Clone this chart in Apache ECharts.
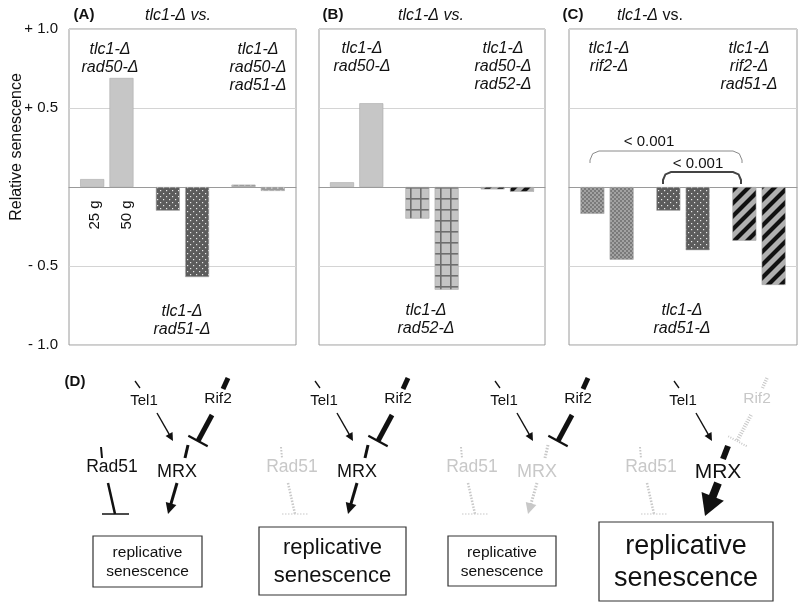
<!DOCTYPE html>
<html>
<head>
<meta charset="utf-8">
<script src="https://cdn.jsdelivr.net/npm/echarts@6/dist/echarts.min.js"></script>
<style>
    html, body { margin: 0; padding: 0; background: #fff; }
    #chart { width: 800px; height: 607px; }
</style>
</head>
<body>
<div id="chart"></div>
<script>
// bar values (3 groups x 2 bars per panel)
const groups = ['g1', 'g2', 'g3']
const panelA = [0.05, 0.69, -0.15, -0.57, 0.015, -0.025]
const panelB = [0.03, 0.53, -0.20, -0.65, -0.015, -0.03]
const panelC = [-0.17, -0.46, -0.15, -0.40, -0.34, -0.62]
const yTicks = [-1, -0.5, 0, 0.5, 1]
const yTickLabels = ['- 1.0', '- 0.5', '', '+ 0.5', '+ 1.0']

const FONT = 'Arial, "Liberation Sans", sans-serif'

// fill patterns
function pattern(w, h, draw) {
    const c = document.createElement('canvas')
    c.width = w
    c.height = h
    draw(c.getContext('2d'), w, h)
    return { image: c, repeat: 'repeat' }
}
const solid = '#c6c6c6'
const darkDots = pattern(6, 6, (g) => {
    g.fillStyle = '#5c5c5c'; g.fillRect(0, 0, 6, 6)
    g.fillStyle = '#e8e8e8'
    g.fillRect(1, 1, 1.2, 1.2); g.fillRect(4, 4, 1.2, 1.2)
})
const greyDots = pattern(6, 6, (g) => {
    g.fillStyle = '#9a9a9a'; g.fillRect(0, 0, 6, 6)
    g.fillStyle = '#eee'
    g.fillRect(1, 1, 1.5, 1.5); g.fillRect(4, 4, 1.5, 1.5)
})
const gridPat = pattern(10, 11, (g) => {
    g.fillStyle = '#c4c4c4'; g.fillRect(0, 0, 10, 11)
    g.fillStyle = '#6e6e6e'
    g.fillRect(0, 0, 10, 1.6); g.fillRect(0, 0, 1.6, 11)
})
const stripes = pattern(13, 13, (g) => {
    g.fillStyle = '#b0b0b0'; g.fillRect(0, 0, 13, 13)
    g.strokeStyle = '#111'; g.lineWidth = 4.2
    g.beginPath()
    g.moveTo(-6.5, 6.5); g.lineTo(6.5, -6.5)
    g.moveTo(0, 13); g.lineTo(13, 0)
    g.moveTo(6.5, 19.5); g.lineTo(19.5, 6.5)
    g.stroke()
})
const checker = pattern(4, 4, (g) => {
    g.fillStyle = '#a2a2a2'; g.fillRect(0, 0, 4, 4)
    g.fillStyle = '#7a7a7a'
    g.fillRect(0, 0, 2, 2); g.fillRect(2, 2, 2, 2)
})

const fillsA = [solid, solid, darkDots, darkDots, greyDots, greyDots]
const fillsB = [solid, solid, gridPat, gridPat, stripes, stripes]
const fillsC = [checker, checker, darkDots, darkDots, stripes, stripes]

const panels = [
    { vals: panelA, fills: fillsA, left: 69, width: 227 },
    { vals: panelB, fills: fillsB, left: 319, width: 226 },
    { vals: panelC, fills: fillsC, left: 569, width: 228 }
]

const grid = [], xAxis = [], yAxis = [], series = []
panels.forEach((p, i) => {
    grid.push({
        left: p.left, top: 29, width: p.width, height: 316,
        show: true, borderColor: '#9a9a9a', borderWidth: 1
    })
    xAxis.push({
        type: 'category', data: groups, gridIndex: i,
        axisLine: { show: true, onZero: true, lineStyle: { color: '#9a9a9a', width: 1 } },
        axisTick: { show: false }, axisLabel: { show: false }
    })
    yAxis.push({
        type: 'value', gridIndex: i, min: -1, max: 1, interval: 0.5,
        axisLine: { show: false }, axisTick: { show: false },
        splitLine: { lineStyle: { color: '#d4d4d4', width: 1 } },
        axisLabel: {
            show: i === 0, margin: 11, color: '#111', fontSize: 15, fontFamily: FONT,
            formatter: (v) => yTickLabels[yTicks.indexOf(v)] || ''
        }
    })
    ;[0, 1].forEach((k) => {
        series.push({
            type: 'bar', xAxisIndex: i, yAxisIndex: i,
            barWidth: 24, barGap: '22%',
            data: [0, 1, 2].map((gi) => ({
                value: p.vals[gi * 2 + k],
                itemStyle: { color: p.fills[gi * 2 + k], borderColor: '#aaa', borderWidth: 0.6 }
            }))
        })
    })
})

// ---- text helpers ----
function txt(x, y, s, o) {
    return {
        type: 'text', x: x, y: y, z: 10,
        style: Object.assign({
            text: s, fill: '#111', fontSize: 16, fontFamily: FONT,
            textAlign: 'center', textVerticalAlign: 'middle',
            align: 'center', verticalAlign: 'middle'
        }, o || {})
    }
}
const it = { fontStyle: 'italic' }
function label(x, y, lines) {
    return lines.map((s, n) => txt(x, y + n * 18, s, it))
}

const g = []
// y axis title
g.push(Object.assign(txt(17, 147, 'Relative senescence', { fontSize: 16 }), { rotation: Math.PI / 2 }))
// panel letters / headers
g.push(txt(84, 15, '(A)', { fontWeight: 'bold', fontSize: 15 }))
g.push(txt(178, 16, 'tlc1-Δ vs.', it))
g.push(txt(333, 15, '(B)', { fontWeight: 'bold', fontSize: 15 }))
g.push(txt(431, 16, 'tlc1-Δ vs.', it))
g.push(txt(573, 15, '(C)', { fontWeight: 'bold', fontSize: 15 }))
g.push(txt(650, 16, '{i|tlc1-Δ} vs.', { rich: { i: { fontStyle: 'italic', fontSize: 16, fontFamily: FONT } } }))
// panel A
g.push(...label(110, 50, ['tlc1-Δ', 'rad50-Δ']))
g.push(...label(258, 50, ['tlc1-Δ', 'rad50-Δ', 'rad51-Δ']))
g.push(...label(182, 312, ['tlc1-Δ', 'rad51-Δ']))
g.push(Object.assign(txt(95, 215, '25 g', { fontSize: 15 }), { rotation: Math.PI / 2 }))
g.push(Object.assign(txt(127, 215, '50 g', { fontSize: 15 }), { rotation: Math.PI / 2 }))
// panel B
g.push(...label(362, 49, ['tlc1-Δ', 'rad50-Δ']))
g.push(...label(503, 49, ['tlc1-Δ', 'rad50-Δ', 'rad52-Δ']))
g.push(...label(426, 311, ['tlc1-Δ', 'rad52-Δ']))
// panel C
g.push(...label(609, 49, ['tlc1-Δ', 'rif2-Δ']))
g.push(...label(749, 49, ['tlc1-Δ', 'rif2-Δ', 'rad51-Δ']))
g.push(...label(682, 311, ['tlc1-Δ', 'rad51-Δ']))
// significance brackets
function bracket(x1, x2, yTop, yEnd, r, color, w) {
    return {
        type: 'polyline', z: 10,
        shape: {
            points: [[x1, yEnd], [x1, yTop + r], [x1 + r * 0.3, yTop + r * 0.3], [x1 + r, yTop],
                [x2 - r, yTop], [x2 - r * 0.3, yTop + r * 0.3], [x2, yTop + r], [x2, yEnd]]
        },
        style: { stroke: color, lineWidth: w, fill: null }
    }
}
g.push(bracket(590, 742, 151, 163, 9, '#8a8a8a', 1))
g.push(txt(649, 142, '< 0.001', { fontSize: 15 }))
g.push(bracket(663, 741, 172, 184, 8, '#444', 2))
g.push(txt(698, 164, '< 0.001', { fontSize: 15 }))

// ---- panel D diagrams ----
const LG = '#c8c8c8'
function ln(x1, y1, x2, y2, w, color, dash) {
    return {
        type: 'line', z: 10,
        shape: { x1: x1, y1: y1, x2: x2, y2: y2 },
        style: { stroke: color || '#111', lineWidth: w, lineDash: dash || null }
    }
}
function arrow(x1, y1, x2, y2, w, head, hw, color, dash) {
    const dx = x2 - x1, dy = y2 - y1, len = Math.hypot(dx, dy)
    const ux = dx / len, uy = dy / len
    const bx = x2 - ux * head, by = y2 - uy * head
    return [
        ln(x1, y1, bx + ux, by + uy, w, color, dash),
        {
            type: 'polygon', z: 10,
            shape: { points: [[x2, y2], [bx - uy * hw, by + ux * hw], [bx + uy * hw, by - ux * hw]] },
            style: { fill: color || '#111' }
        }
    ]
}
function inhibit(x1, y1, x2, y2, w, half, tw, color, dash) {
    const dx = x2 - x1, dy = y2 - y1, len = Math.hypot(dx, dy)
    const px = -dy / len, py = dx / len
    return [
        ln(x1, y1, x2, y2, w, color, dash),
        ln(x2 - px * half, y2 - py * half, x2 + px * half, y2 + py * half, tw, color, dash)
    ]
}

const diagrams = [
    { dx: 0, rad51: true, mrx: true, rif2: true, mrxSize: 18, box: [93, 536, 109, 51, 15.5, 19] },
    { dx: 180, rad51: false, mrx: true, rif2: true, mrxSize: 18, box: [259, 527, 147, 68, 22, 28] },
    { dx: 360, rad51: false, mrx: false, rif2: true, mrxSize: 18, box: [448, 536, 108, 50, 15.5, 19] },
    { dx: 539, rad51: false, mrx: true, rif2: false, mrxSize: 21, big: true, box: [599, 522, 174, 79, 27, 32] }
]
const dot = [1.5, 1.5]
diagrams.forEach((d) => {
    const X = (x) => x + d.dx
    // Tel1
    g.push(ln(X(135), 381, X(140), 388, 1.3))
    g.push(txt(X(144), 401, 'Tel1', { fontSize: 15 }))
    g.push(...arrow(X(157), 413, X(173), 441, 1.4, 8, 4))
    // Rif2
    if (d.rif2) {
        g.push(ln(X(228), 378, X(223), 389, 5))
        g.push(txt(X(218), 399, 'Rif2', { fontSize: 15.5 }))
        g.push(...inhibit(X(212), 415, X(198), 441, 5, 11, 2.2))
    } else {
        g.push(ln(X(228), 378, X(223), 389, 3.5, LG, [1, 1.5]))
        g.push(txt(X(218), 399, 'Rif2', { fontSize: 15.5, fill: LG }))
        g.push(...inhibit(X(212), 415, X(198), 441, 4, 11, 2, LG, [1, 1.5]))
    }
    // MRX
    if (d.mrx) {
        if (d.big) {
            g.push(ln(X(189), 446, X(184), 459, 6))
            g.push(txt(X(179), 472, 'MRX', { fontSize: d.mrxSize }))
            g.push(...arrow(X(179), 483, X(166), 516, 8, 21, 12))
        } else {
            g.push(ln(X(188), 445, X(185), 458, 3))
            g.push(txt(X(177), 472, 'MRX', { fontSize: d.mrxSize }))
            g.push(...arrow(X(177), 483, X(168), 514, 3, 11, 5.5))
        }
    } else {
        g.push(ln(X(188), 445, X(185), 458, 3, LG, dot))
        g.push(txt(X(177), 472, 'MRX', { fontSize: d.mrxSize, fill: LG }))
        g.push(...arrow(X(177), 483, X(168), 514, 3, 11, 5.5, LG, dot))
    }
    // Rad51
    if (d.rad51) {
        g.push(ln(X(101), 447, X(102), 458, 2))
        g.push(txt(X(112), 467, 'Rad51', { fontSize: 17.5 }))
        g.push(ln(X(108), 483, X(115), 514, 2.5))
        g.push(ln(X(102), 514, X(129), 514, 1.5))
    } else {
        g.push(ln(X(101), 447, X(102), 458, 2, LG, dot))
        g.push(txt(X(112), 467, 'Rad51', { fontSize: 17.5, fill: LG }))
        g.push(ln(X(108), 483, X(115), 514, 2.5, LG, dot))
        g.push(ln(X(102), 514, X(129), 514, 1.2, LG, dot))
    }
    // outcome box
    const b = d.box
    g.push({
        type: 'rect', z: 9,
        shape: { x: b[0], y: b[1], width: b[2], height: b[3] },
        style: { fill: '#fff', stroke: '#333', lineWidth: 1.2 }
    })
    g.push(txt(b[0] + b[2] / 2, b[1] + b[3] / 2 + 1, 'replicative\nsenescence',
        { fontSize: b[4], lineHeight: b[5] }))
})
g.push(txt(75, 382, '(D)', { fontWeight: 'bold', fontSize: 15 }))

const chart = echarts.init(document.getElementById('chart'), null, { renderer: 'canvas' })
chart.setOption({
    animation: false,
    backgroundColor: '#fff',
    grid: grid,
    xAxis: xAxis,
    yAxis: yAxis,
    series: series,
    graphic: { elements: g }
})
</script>
</body>
</html>
